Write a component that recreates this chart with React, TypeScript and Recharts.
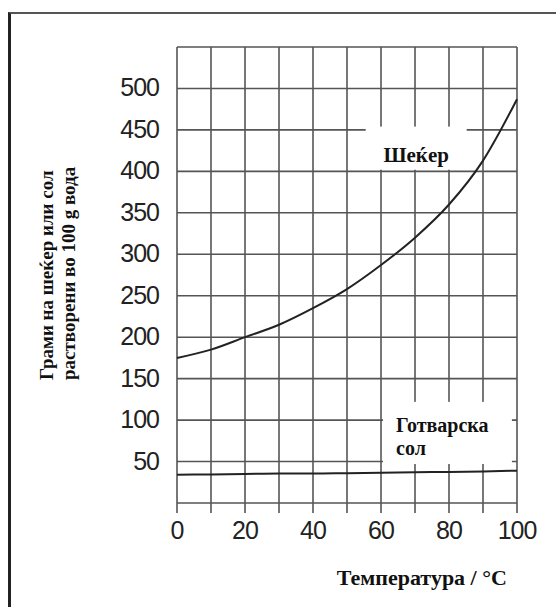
import React from 'react';
import { LineChart, Line, XAxis, YAxis, CartesianGrid, ReferenceArea, Label } from 'recharts';

// temperature (°C) and grams dissolved per 100 g water
const temperatures = [0, 10, 20, 30, 40, 50, 60, 70, 80, 90, 100];
const sugar = [175, 185, 200, 215, 235, 258, 287, 320, 360, 413, 487];
const salt = [34, 34.5, 35, 35.5, 35.5, 36, 36.5, 37, 37.5, 38, 39];

const xTicks = [0, 10, 20, 30, 40, 50, 60, 70, 80, 90, 100];
const xLabels = [0, 20, 40, 60, 80, 100];
const yTicks = [0, 50, 100, 150, 200, 250, 300, 350, 400, 450, 500, 550];
const yLabels = [50, 100, 150, 200, 250, 300, 350, 400, 450, 500];

const sugarName = 'Шеќер';
const saltName = ['Готварска', 'сол'];
const xTitle = 'Температура / °C';
const yTitle = ['Грами на шеќер или сол', 'растворени во 100 g вода'];

const data = temperatures.map((t, i) => ({ t, sugar: sugar[i], salt: salt[i] }));

const grid = '#555';
const ink = '#222';
const sans = '"Liberation Sans", Arial, sans-serif';
const serif = '"Liberation Serif", "Times New Roman", serif';

const XTick = ({ x, y, payload }: any) =>
  xLabels.includes(payload.value) ? (
    <text x={x} y={y} dy={18} textAnchor="middle" fontFamily={sans} fontSize={25} letterSpacing={-1} fill="#222">
      {payload.value}
    </text>
  ) : (
    <g />
  );

const YTick = ({ x, y, payload }: any) =>
  yLabels.includes(payload.value) ? (
    <text x={x} y={y} dy={8} textAnchor="end" fontFamily={sans} fontSize={25} letterSpacing={-1} fill="#222">
      {payload.value}
    </text>
  ) : (
    <g />
  );

const boldText = { fontFamily: serif, fontWeight: 700, fill: '#111' } as const;

// white box that hides the grid behind a curve name
const SugarBox = ({ x, y, width, height }: any) => (
  <g>
    <rect x={x} y={y} width={width} height={height} fill="#fff" />
    <text x={x + width / 2} y={y + 35} textAnchor="middle" fontSize={21} {...boldText}>
      {sugarName}
    </text>
  </g>
);

const SaltBox = ({ x, y, width, height }: any) => (
  <g>
    <rect x={x} y={y} width={width} height={height} fill="#fff" />
    <g fontSize={20} {...boldText}>
      <text x={x + 13} y={y + 30}>{saltName[0]}</text>
      <text x={x + 13} y={y + 53}>{saltName[1]}</text>
    </g>
  </g>
);

export default function App() {
  return (
    <div style={{ position: 'absolute', left: 0, top: 0, width: 556, height: 607, background: '#fff' }}>
      <div
        style={{
          position: 'absolute',
          left: 8,
          top: 12,
          right: 0,
          bottom: 0,
          borderTop: '2px solid #555',
          borderLeft: '3px solid #222',
        }}
      />
      <div style={{ position: 'absolute', left: 0, top: 0 }}>
        <LineChart width={556} height={607} data={data} margin={{ top: 47, right: 39, bottom: 0, left: 0 }}>
          <CartesianGrid stroke={grid} strokeWidth={1.6} />
          <XAxis
            dataKey="t"
            type="number"
            domain={[0, 100]}
            ticks={xTicks}
            interval={0}
            height={104}
            tickSize={10}
            tickMargin={8}
            tickLine={{ stroke: grid, strokeWidth: 1.6 }}
            axisLine={false}
            tick={<XTick />}
          >
            <Label
              content={({ viewBox }: any) => (
                <text x={viewBox.x + viewBox.width * 0.72} y={viewBox.y + 82} textAnchor="middle" fontSize={22} {...boldText}>
                  {xTitle}
                </text>
              )}
            />
          </XAxis>
          <YAxis
            type="number"
            domain={[0, 550]}
            ticks={yTicks}
            interval={0}
            width={177}
            tickSize={0}
            tickMargin={18}
            tickLine={false}
            axisLine={false}
            tick={<YTick />}
          >
            <Label
              content={({ viewBox }: any) => {
                const y0 = viewBox.y + 333;
                return (
                  <g fontSize={19} {...boldText}>
                    <text x={viewBox.x + 53} y={y0} transform={`rotate(-90, ${viewBox.x + 53}, ${y0})`}>
                      {yTitle[0]}
                    </text>
                    <text x={viewBox.x + 75} y={y0} transform={`rotate(-90, ${viewBox.x + 75}, ${y0})`}>
                      {yTitle[1]}
                    </text>
                  </g>
                );
              }}
            />
          </YAxis>
          <ReferenceArea x1={55.5} x2={85.2} y1={402} y2={454} shape={<SugarBox />} />
          <ReferenceArea x1={60.6} x2={98.5} y1={47} y2={122} shape={<SaltBox />} />
          <Line type="monotone" dataKey="sugar" stroke={ink} strokeWidth={2} dot={false} isAnimationActive={false} />
          <Line type="monotone" dataKey="salt" stroke={ink} strokeWidth={2} dot={false} isAnimationActive={false} />
        </LineChart>
      </div>
    </div>
  );
}
